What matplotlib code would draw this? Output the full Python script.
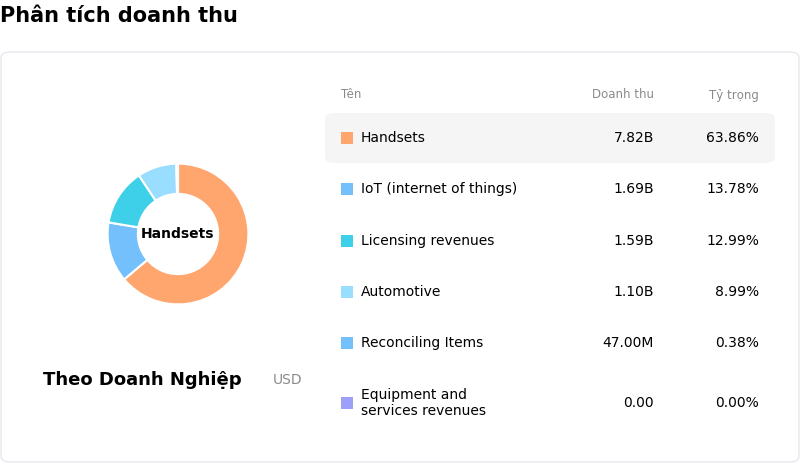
import matplotlib.pyplot as plt
from matplotlib.patches import FancyBboxPatch

names = ["Handsets", "IoT (internet of things)", "Licensing revenues", "Automotive",
         "Reconciling Items", "Equipment and\nservices revenues"]
revenue = ["7.82B", "1.69B", "1.59B", "1.10B", "47.00M", "0.00"]
share = [63.86, 13.78, 12.99, 8.99, 0.38, 0.00]
colors = ["#FFA66F", "#74C0FC", "#3DD0E8", "#99DDFF", "#74C0FC", "#9CA0F8"]

W, H = 800, 463
fig = plt.figure(figsize=(8, 4.63), dpi=100)


def px(x, y):
    return x / W, 1 - y / H


fig.text(*px(0, 16), "Phân tích doanh thu", fontsize=15, fontweight="bold", va="center")

card = FancyBboxPatch(px(1, 462), 798 / W, 410 / H, boxstyle="round,pad=0,rounding_size=0.012",
                      transform=fig.transFigure, fc="white", ec="#E2E2EA", lw=0.8, zorder=-2)
fig.patches.append(card)

# donut
r = 90
ax = fig.add_axes([(178 - r) / W, 1 - (234 + r) / H, 2 * r / W, 2 * r / H])
ax.set_zorder(2)
ax.patch.set_visible(False)
vals = [v for v in share if v > 0]
ax.pie(vals, colors=colors[:len(vals)], startangle=90, counterclock=False,
       wedgeprops=dict(width=37 / 88, edgecolor="white", linewidth=1.5), radius=88 / 90)
ax.set_aspect("equal")
ax.text(0, 0, "Handsets", ha="center", va="center", fontsize=10, fontweight="bold")

fig.text(*px(43, 380), "Theo Doanh Nghiệp", fontsize=13, fontweight="bold", va="center")
fig.text(*px(273, 380), "USD", fontsize=10, color="#8A8A8A", va="center")

# table
fig.text(*px(341, 95), "Tên", fontsize=8.5, color="#8A8A8A", va="center")
fig.text(*px(654, 95), "Doanh thu", fontsize=8.5, color="#8A8A8A", va="center", ha="right")
fig.text(*px(759, 95), "Tỷ trọng", fontsize=8.5, color="#8A8A8A", va="center", ha="right")

hl = FancyBboxPatch(px(325, 163), 450 / W, 50 / H, boxstyle="round,pad=0,rounding_size=0.012",
                    transform=fig.transFigure, fc="#F5F5F5", ec="none", zorder=-1)
fig.patches.append(hl)

rows_y = [138, 189, 241, 292, 343, 403]
for y, n, rv, s, c in zip(rows_y, names, revenue, share, colors):
    sq = plt.Rectangle(px(341, y + 6), 12 / W, 12 / H, transform=fig.transFigure, fc=c, ec="none")
    fig.patches.append(sq)
    fig.text(*px(361, y), n, fontsize=10, va="center", linespacing=1.1)
    fig.text(*px(654, y), rv, fontsize=10, va="center", ha="right")
    fig.text(*px(759, y), f"{s:.2f}%", fontsize=10, va="center", ha="right")

fig.savefig("out.png", dpi=100)
